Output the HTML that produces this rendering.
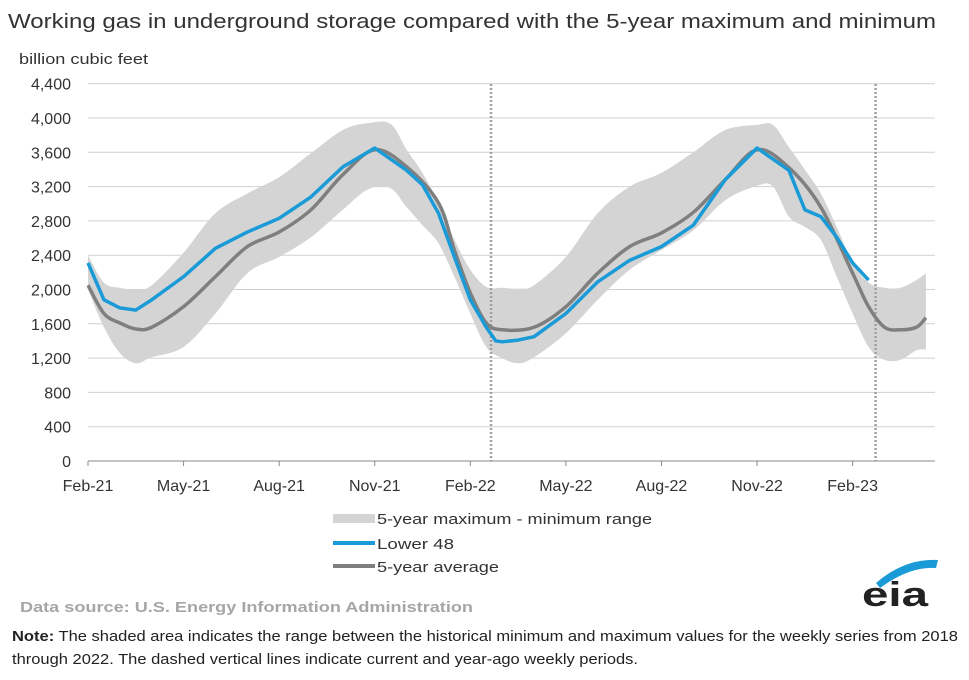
<!DOCTYPE html>
<html><head><meta charset="utf-8"><style>
html,body{margin:0;padding:0;background:#fff;}
svg{display:block;font-family:"Liberation Sans",Arial,sans-serif;}
</style></head><body>
<svg id="chart" width="969" height="680" viewBox="0 0 969 680">
<text x="8" y="28" font-size="20" fill="#333" textLength="928" lengthAdjust="spacingAndGlyphs">Working gas in underground  storage compared with the 5-year maximum and minimum</text>
<text x="19" y="64" font-size="15" fill="#333" textLength="129" lengthAdjust="spacingAndGlyphs">billion cubic feet</text>
<g id="grid"></g><g id="series"></g><g id="axes"></g>
<g>
<rect x="333" y="514" width="42" height="9" fill="#d4d4d4"/>
<text x="377" y="524" font-size="15" fill="#333" textLength="275" lengthAdjust="spacingAndGlyphs">5-year maximum - minimum range</text>
<line x1="333" y1="543" x2="375" y2="543" stroke="#1a9ad6" stroke-width="4"/>
<text x="377" y="549" font-size="15" fill="#333" textLength="77" lengthAdjust="spacingAndGlyphs">Lower 48</text>
<line x1="333" y1="566" x2="375" y2="566" stroke="#7f7f7f" stroke-width="4"/>
<text x="377" y="572" font-size="15" fill="#333" textLength="122" lengthAdjust="spacingAndGlyphs">5-year average</text>
</g>
<text x="20" y="612" font-size="15" font-weight="bold" fill="#a6a6a6" textLength="453" lengthAdjust="spacingAndGlyphs">Data source:  U.S. Energy Information Administration</text>
<g>
<path d="M876 583 Q905 558 938 560 L936 568 Q910 566 880 588 Z" fill="#1a9ad6"/>
<text x="862" y="606" font-size="34" font-weight="bold" fill="#222" textLength="66" lengthAdjust="spacingAndGlyphs">eia</text>
</g>
<text x="12" y="641" font-size="15" fill="#222" textLength="946" lengthAdjust="spacingAndGlyphs"><tspan font-weight="bold">Note:</tspan> The shaded area indicates the range between the historical minimum and maximum values for the weekly series from 2018</text>
<text x="12" y="664" font-size="15" fill="#222" textLength="626" lengthAdjust="spacingAndGlyphs">through 2022. The dashed vertical lines indicate current and year-ago weekly periods.</text>
</svg>
<script>
const yTicks=[0,400,800,1200,1600,2000,2400,2800,3200,3600,4000,4400];
const xTickLabels=["Feb-21","May-21","Aug-21","Nov-21","Feb-22","May-22","Aug-22","Nov-22","Feb-23"];
const xTickMonths=[0,3,6,9,12,15,18,21,24];
const dashedMonths=[12.65,24.72];
const bandMonths=[0,0.5,1,1.5,2,3,4,5,6,7,8,8.8,9.5,10,10.5,11,11.5,12,12.5,13,13.5,14,15,16,17,18,19,20,21,21.5,22,22.5,23,23.5,24,24.5,25,25.5,26,26.3];
const bandMax=[2400,2080,2020,2000,2050,2430,2890,3120,3310,3590,3860,3940,3930,3630,3360,3010,2580,2230,2030,2020,2010,2050,2380,2890,3200,3360,3600,3860,3920,3920,3660,3400,3120,2730,2310,2080,2020,2020,2110,2190];
const bandMin=[2000,1560,1260,1140,1210,1330,1720,2190,2380,2610,2930,3170,3180,2960,2750,2540,2150,1720,1330,1200,1140,1210,1490,1880,2230,2460,2690,3040,3210,3200,2850,2730,2580,2150,1720,1330,1180,1180,1290,1300];
const lowerMonths=[0,0.5,1,1.5,2,3,4,5,6,7,8,9,10,10.5,11,11.5,12,12.5,12.8,13,13.5,14,15,16,17,18,19,20,21,22,22.5,23,23.5,24,24.5];
const lowerValues=[2310,1880,1785,1760,1880,2150,2480,2670,2830,3080,3430,3650,3390,3220,2890,2380,1880,1560,1400,1390,1410,1450,1720,2090,2340,2500,2750,3280,3650,3390,2930,2850,2610,2310,2110];
const avgMonths=[0,0.5,1,1.5,2,3,4,5,6,7,8,9,10,11,11.5,12,12.5,13,14,15,16,17,18,19,20,21,22,23,24,24.5,25,25.5,26,26.3];
const avgValues=[2050,1720,1610,1540,1560,1800,2150,2500,2670,2930,3340,3630,3430,3010,2460,1960,1610,1530,1560,1800,2190,2500,2660,2900,3280,3630,3420,2960,2190,1800,1560,1530,1560,1670];

const NS="http://www.w3.org/2000/svg";
const X0=88,X1=935,Y0=461,PX_PER_MONTH=31.86,PX_PER_UNIT=343/4000;
const xs=m=>X0+m*PX_PER_MONTH;
const ys=v=>Y0-v*PX_PER_UNIT;
function mk(tag,attrs,parent){const e=document.createElementNS(NS,tag);for(const k in attrs)e.setAttribute(k,attrs[k]);parent.appendChild(e);return e;}
function smooth(pts,start){let d=start?('M'+pts[0][0]+','+pts[0][1]):('L'+pts[0][0]+','+pts[0][1]);
  for(let i=0;i<pts.length-1;i++){const p0=pts[i-1]||pts[i],p1=pts[i],p2=pts[i+1],p3=pts[i+2]||p2;
    const c1=[p1[0]+(p2[0]-p0[0])/6,p1[1]+(p2[1]-p0[1])/6],c2=[p2[0]-(p3[0]-p1[0])/6,p2[1]-(p3[1]-p1[1])/6];
    d+='C'+c1[0]+','+c1[1]+' '+c2[0]+','+c2[1]+' '+p2[0]+','+p2[1];}
  return d;}
const grid=document.getElementById('grid'),series=document.getElementById('series'),axes=document.getElementById('axes');
yTicks.forEach(v=>{
  if(v>0){const l=mk('line',{x1:X0,x2:X1,y1:ys(v),y2:ys(v),stroke:'#d0d0d0','stroke-width':1},grid);
  
  }
  const t=mk('text',{x:71,y:ys(v)+6,'font-size':16,'text-anchor':'end',fill:'#333'},axes);
  t.textContent=v.toLocaleString('en-US');
  
  
});
const topPts=bandMonths.map((m,i)=>[xs(m),ys(bandMax[i])]);
const botPts=bandMonths.map((m,i)=>[xs(m),ys(bandMin[i])]).reverse();
const band=mk('path',{d:smooth(topPts,true)+smooth(botPts,false)+'Z',fill:'#d4d4d4'},series);


dashedMonths.forEach(m=>{const l=mk('line',{x1:xs(m),x2:xs(m),y1:84,y2:Y0,stroke:'#a0a0a0','stroke-width':2.5,'stroke-dasharray':'2,2'},series);
  
  });
const avg=mk('path',{d:smooth(avgMonths.map((m,i)=>[xs(m),ys(avgValues[i])]),true),fill:'none',stroke:'#7f7f7f','stroke-width':3.5,'stroke-linejoin':'round'},series);


const low=mk('polyline',{points:lowerMonths.map((m,i)=>xs(m)+','+ys(lowerValues[i])).join(' '),fill:'none',stroke:'#1a9ad6','stroke-width':3.5,'stroke-linejoin':'round'},series);


const ax=mk('line',{x1:X0,x2:X1,y1:Y0,y2:Y0,stroke:'#888','stroke-width':1},axes);


xTickMonths.forEach((m,i)=>{
  const tk=mk('line',{x1:xs(m),x2:xs(m),y1:Y0,y2:Y0+5,stroke:'#888'},axes);
  
  
  const t=mk('text',{x:xs(m),y:Y0+30,'font-size':16,'text-anchor':'middle',fill:'#333'},axes);
  t.textContent=xTickLabels[i];
  
  
});
</script>
</body></html>
